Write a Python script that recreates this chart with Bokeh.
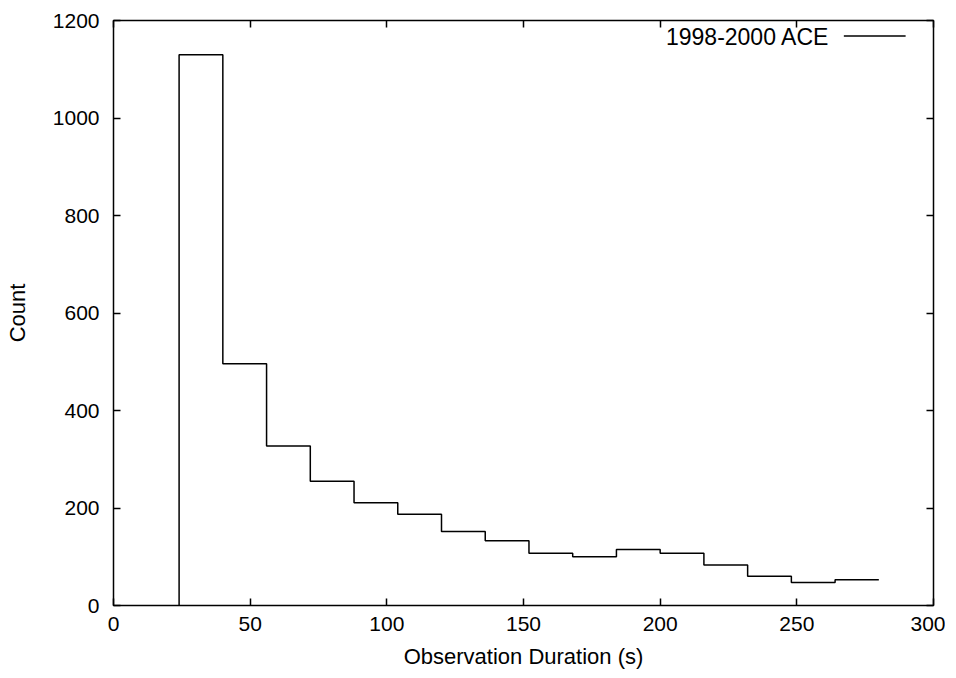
from bokeh.plotting import figure
from bokeh.models import LinearAxis, Range1d, Label, FixedTicker
from bokeh.embed import file_html
from bokeh.resources import INLINE

# Histogram data (bin edges and counts)
bin_edges = [24, 40, 56, 72, 88, 104, 120, 136, 152, 168, 184, 200, 216, 232, 248, 264, 280]
counts = [1130, 496, 327, 255, 211, 187, 152, 133, 107, 100, 115, 107, 83, 60, 47, 53]
series_name = "1998-2000 ACE"
x_ticks = [0, 50, 100, 150, 200, 250, 300]
y_ticks = [0, 200, 400, 600, 800, 1000, 1200]

FONT = "Liberation Sans"

p = figure(width=945, height=676, output_backend="svg", toolbar_location=None,
           x_range=Range1d(0, 300), y_range=Range1d(0, 1200),
           min_border_left=113, min_border_right=12, min_border_top=20, min_border_bottom=71)
p.xgrid.visible = False
p.ygrid.visible = False
p.outline_line_color = "black"
p.outline_line_width = 1.5
p.background_fill_color = "white"
p.border_fill_color = "white"

# histeps-style outline
xs = [bin_edges[0]]
ys = [0]
for i, c in enumerate(counts):
    xs += [bin_edges[i], bin_edges[i + 1]]
    ys += [c, c]
p.line(xs, ys, line_color="black", line_width=1.5)

xa = p.xaxis[0]
xa.ticker = FixedTicker(ticks=x_ticks)
ya = p.yaxis[0]
ya.ticker = FixedTicker(ticks=y_ticks)
for ax in (xa, ya):
    ax.major_tick_in = 7
    ax.major_tick_out = 0
    ax.minor_tick_in = 0
    ax.minor_tick_out = 0
    ax.axis_line_color = None
    ax.major_tick_line_color = "black"
    ax.major_tick_line_width = 1.5
    ax.major_label_text_font = FONT
    ax.major_label_text_font_size = "21px"
    ax.major_label_text_color = "black"
    ax.axis_label_text_font = FONT
    ax.axis_label_text_font_size = "22px"
    ax.axis_label_text_font_style = "normal"
    ax.axis_label_text_color = "black"
xa.axis_label = "Observation Duration (s)"
ya.axis_label = "Count"
xa.major_label_standoff = 11
xa.axis_label_standoff = 10
ya.major_label_standoff = 14
ya.axis_label_standoff = 20

top = LinearAxis(ticker=FixedTicker(ticks=x_ticks))
right = LinearAxis(ticker=FixedTicker(ticks=y_ticks))
for ax in (top, right):
    ax.major_tick_in = 7
    ax.major_tick_out = 0
    ax.minor_tick_in = 0
    ax.minor_tick_out = 0
    ax.axis_line_color = None
    ax.major_tick_line_color = "black"
    ax.major_tick_line_width = 1.5
    ax.major_label_text_font_size = "0px"
    ax.major_label_text_alpha = 0
    ax.major_label_standoff = 0
p.add_layout(top, "above")
p.add_layout(right, "right")

# Legend: text right-aligned, line sample on its right
p.add_layout(Label(x=262, y=1167, text=series_name, text_font=FONT, text_font_size="23px",
                   text_align="right", text_baseline="middle", text_color="black"))
p.segment(x0=[267.2], y0=[1168], x1=[289.8], y1=[1168], line_color="black", line_width=1.5)

open("out.html", "w").write(file_html(p, INLINE))
